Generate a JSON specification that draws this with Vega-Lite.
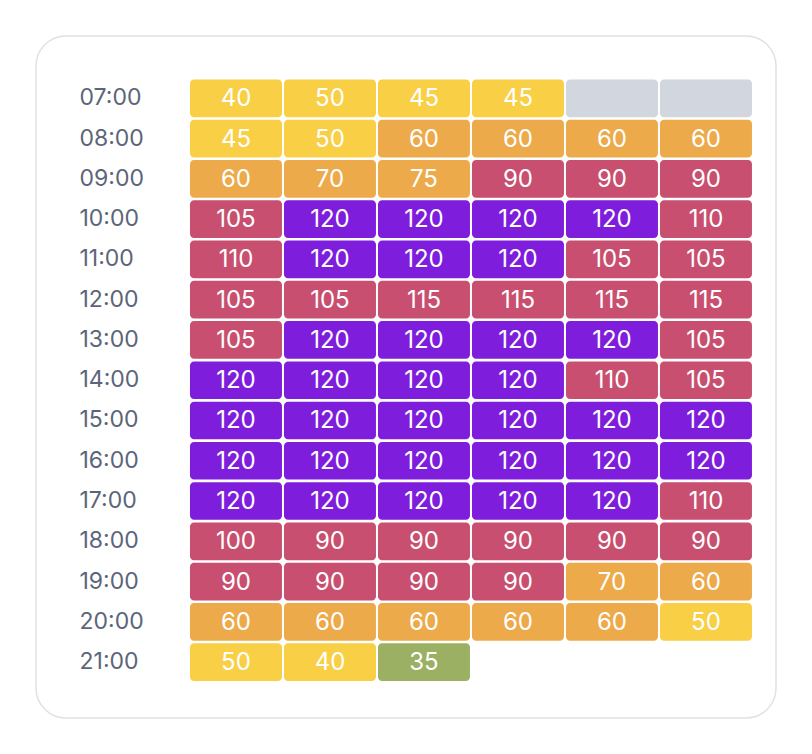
{
  "$schema": "https://vega.github.io/schema/vega-lite/v6.json",
  "width": 740,
  "height": 682,
  "autosize": "none",
  "padding": {"left": 36, "top": 36, "right": 36, "bottom": 36},
  "background": "#ffffff",
  "config": {
    "view": {"fill": "#ffffff", "stroke": "#dfe1e6", "strokeWidth": 1.5, "cornerRadius": 30},
    "font": "Inter"
  },
  "data": {
    "values": [
      {"time": "07:00", "col": 1, "v": 40}, {"time": "07:00", "col": 2, "v": 50}, {"time": "07:00", "col": 3, "v": 45}, {"time": "07:00", "col": 4, "v": 45}, {"time": "07:00", "col": 5, "v": null}, {"time": "07:00", "col": 6, "v": null},
      {"time": "08:00", "col": 1, "v": 45}, {"time": "08:00", "col": 2, "v": 50}, {"time": "08:00", "col": 3, "v": 60}, {"time": "08:00", "col": 4, "v": 60}, {"time": "08:00", "col": 5, "v": 60}, {"time": "08:00", "col": 6, "v": 60},
      {"time": "09:00", "col": 1, "v": 60}, {"time": "09:00", "col": 2, "v": 70}, {"time": "09:00", "col": 3, "v": 75}, {"time": "09:00", "col": 4, "v": 90}, {"time": "09:00", "col": 5, "v": 90}, {"time": "09:00", "col": 6, "v": 90},
      {"time": "10:00", "col": 1, "v": 105}, {"time": "10:00", "col": 2, "v": 120}, {"time": "10:00", "col": 3, "v": 120}, {"time": "10:00", "col": 4, "v": 120}, {"time": "10:00", "col": 5, "v": 120}, {"time": "10:00", "col": 6, "v": 110},
      {"time": "11:00", "col": 1, "v": 110}, {"time": "11:00", "col": 2, "v": 120}, {"time": "11:00", "col": 3, "v": 120}, {"time": "11:00", "col": 4, "v": 120}, {"time": "11:00", "col": 5, "v": 105}, {"time": "11:00", "col": 6, "v": 105},
      {"time": "12:00", "col": 1, "v": 105}, {"time": "12:00", "col": 2, "v": 105}, {"time": "12:00", "col": 3, "v": 115}, {"time": "12:00", "col": 4, "v": 115}, {"time": "12:00", "col": 5, "v": 115}, {"time": "12:00", "col": 6, "v": 115},
      {"time": "13:00", "col": 1, "v": 105}, {"time": "13:00", "col": 2, "v": 120}, {"time": "13:00", "col": 3, "v": 120}, {"time": "13:00", "col": 4, "v": 120}, {"time": "13:00", "col": 5, "v": 120}, {"time": "13:00", "col": 6, "v": 105},
      {"time": "14:00", "col": 1, "v": 120}, {"time": "14:00", "col": 2, "v": 120}, {"time": "14:00", "col": 3, "v": 120}, {"time": "14:00", "col": 4, "v": 120}, {"time": "14:00", "col": 5, "v": 110}, {"time": "14:00", "col": 6, "v": 105},
      {"time": "15:00", "col": 1, "v": 120}, {"time": "15:00", "col": 2, "v": 120}, {"time": "15:00", "col": 3, "v": 120}, {"time": "15:00", "col": 4, "v": 120}, {"time": "15:00", "col": 5, "v": 120}, {"time": "15:00", "col": 6, "v": 120},
      {"time": "16:00", "col": 1, "v": 120}, {"time": "16:00", "col": 2, "v": 120}, {"time": "16:00", "col": 3, "v": 120}, {"time": "16:00", "col": 4, "v": 120}, {"time": "16:00", "col": 5, "v": 120}, {"time": "16:00", "col": 6, "v": 120},
      {"time": "17:00", "col": 1, "v": 120}, {"time": "17:00", "col": 2, "v": 120}, {"time": "17:00", "col": 3, "v": 120}, {"time": "17:00", "col": 4, "v": 120}, {"time": "17:00", "col": 5, "v": 120}, {"time": "17:00", "col": 6, "v": 110},
      {"time": "18:00", "col": 1, "v": 100}, {"time": "18:00", "col": 2, "v": 90}, {"time": "18:00", "col": 3, "v": 90}, {"time": "18:00", "col": 4, "v": 90}, {"time": "18:00", "col": 5, "v": 90}, {"time": "18:00", "col": 6, "v": 90},
      {"time": "19:00", "col": 1, "v": 90}, {"time": "19:00", "col": 2, "v": 90}, {"time": "19:00", "col": 3, "v": 90}, {"time": "19:00", "col": 4, "v": 90}, {"time": "19:00", "col": 5, "v": 70}, {"time": "19:00", "col": 6, "v": 60},
      {"time": "20:00", "col": 1, "v": 60}, {"time": "20:00", "col": 2, "v": 60}, {"time": "20:00", "col": 3, "v": 60}, {"time": "20:00", "col": 4, "v": 60}, {"time": "20:00", "col": 5, "v": 60}, {"time": "20:00", "col": 6, "v": 50},
      {"time": "21:00", "col": 1, "v": 50}, {"time": "21:00", "col": 2, "v": 40}, {"time": "21:00", "col": 3, "v": 35}
    ]
  },
  "encoding": {
    "x": {
      "field": "col", "type": "ordinal",
      "scale": {"domain": [1, 2, 3, 4, 5, 6], "paddingInner": 0.0213, "paddingOuter": 0.9468, "align": 0.865},
      "axis": null
    },
    "y": {
      "field": "time", "type": "ordinal", "sort": null,
      "scale": {"paddingInner": 0.065, "paddingOuter": 1.06, "align": 0.54},
      "axis": {
        "title": null, "domain": false, "ticks": false, "offset": -43,
        "labelPadding": 0, "labelAlign": "left", "labelBaseline": "middle",
        "labelFontSize": 23, "labelColor": "#5b6579", "labelFont": "Inter"
      }
    }
  },
  "layer": [
    {
      "mark": {"type": "rect", "cornerRadius": 4, "invalid": "show"},
      "encoding": {
        "color": {
          "condition": {"test": "!isValid(datum.v)", "value": "#d2d6de"},
          "field": "v", "type": "quantitative",
          "scale": {"type": "threshold", "domain": [40, 60, 90, 120], "range": ["#9bb063", "#f8cf45", "#edaa4b", "#c84f6f", "#7e1edc"]},
          "legend": null
        }
      }
    },
    {
      "transform": [{"filter": "isValid(datum.v)"}],
      "mark": {"type": "text", "color": "#ffffff", "fontSize": 24, "font": "Inter", "baseline": "middle", "align": "center", "dy": 1},
      "encoding": {"text": {"field": "v", "type": "quantitative"}}
    }
  ]
}
